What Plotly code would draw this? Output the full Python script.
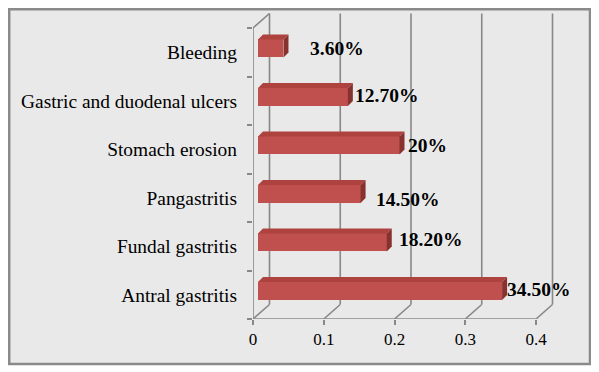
import plotly.graph_objects as go

# ---- data ----
categories = ["Antral gastritis", "Fundal gastritis", "Pangastritis",
              "Stomach erosion", "Gastric and duodenal ulcers", "Bleeding"]
values = [0.345, 0.182, 0.145, 0.20, 0.127, 0.036]
value_labels = ["34.50%", "18.20%", "14.50%", "20%", "12.70%", "3.60%"]
x_ticks = [0, 0.1, 0.2, 0.3, 0.4]
x_tick_labels = ["0", "0.1", "0.2", "0.3", "0.4"]

# label nudges (pixels) to mimic the original label placement
label_dx = [-3, 4, 7, 0, -1, 19]
label_dy = [1, 3, -6, 0, 1, 0]

# ---- geometry (page has an 8px body margin, so the figure is 8px smaller) ----
W, H = 591, 364
L, R, T, B = 245, 44, 5, 53
pw, ph = W - L - R, H - T - B
px_x = 707.5          # pixels per x unit
px_y = 48.5           # pixels per category
xmax = pw / px_x
ymin = -0.5
ymax = ymin + ph / px_y

dx = 16.5 / px_x      # wall depth in x
dy = 14.5 / px_y      # wall depth in y
bx = 5 / px_x         # bar start offset
by = 3.8 / px_y       # bar vertical offset
bh = 18 / px_y        # bar front height
ddx = 5 / px_x        # bar depth x
ddy = 5 / px_y        # bar depth y

FRONT = "#c0504d"
TOP = "#ad423f"
SIDE = "#883230"
GRID = "#888888"
FONT = "Times New Roman, Liberation Serif, serif"

ypos = list(range(len(categories)))

fig = go.Figure()
fig.add_trace(go.Bar(
    y=[y + by for y in ypos], x=values, base=[bx] * len(values),
    orientation="h", width=bh, marker=dict(color=FRONT, line=dict(width=0)),
    hoverinfo="skip", showlegend=False))

shapes = []
def pxx(p):
    return (p - L) / pw
def pyy(p):
    return 1 - (p - T) / ph
# background frame
shapes.append(dict(type="rect", xref="paper", yref="paper",
                   x0=pxx(1.2), x1=pxx(582), y0=pyy(356), y1=pyy(1.2),
                   fillcolor="#e9e9e9", line=dict(color="#8a8a8a", width=2.5),
                   layer="below"))

def seg(x0, y0, x1, y1, w=1.6):
    shapes.append(dict(type="line", xref="x", yref="y", x0=x0, y0=y0, x1=x1, y1=y1,
                       line=dict(color=GRID, width=w), layer="below"))

# walls / grid
seg(0, ymin, 0, 5.5)
seg(0, 5.5, dx, 5.5 + dy)
seg(dx, ymin + dy, dx, 5.5 + dy)
seg(0, ymin, x_ticks[-1], ymin)
for t in x_ticks:
    seg(t, ymin, t + dx, ymin + dy)
    if t > 0:
        seg(t + dx, ymin + dy, t + dx, 5.5 + dy)

# 3D faces of bars
for y, v in zip(ypos, values):
    yc = y + by
    x0 = bx
    x1 = bx + v
    ytop = yc + bh / 2
    ybot = yc - bh / 2
    top = (f"M{x0},{ytop} L{x1},{ytop} L{x1 + ddx},{ytop + ddy} "
           f"L{x0 + ddx},{ytop + ddy} Z")
    side = (f"M{x1},{ybot} L{x1},{ytop} L{x1 + ddx},{ytop + ddy} "
            f"L{x1 + ddx},{ybot + ddy} Z")
    shapes.append(dict(type="path", xref="x", yref="y", path=top,
                       fillcolor=TOP, line=dict(width=0)))
    shapes.append(dict(type="path", xref="x", yref="y", path=side,
                       fillcolor=SIDE, line=dict(width=0)))

annotations = []
for y, v, lab, ndx, ndy in zip(ypos, values, value_labels, label_dx, label_dy):
    annotations.append(dict(x=bx + v + ddx, y=y + by, text=f"<b>{lab}</b>",
                            xref="x", yref="y", xanchor="left", yanchor="middle",
                            showarrow=False, xshift=1 + ndx, yshift=ndy,
                            font=dict(family=FONT, size=19.5, color="black")))

fig.update_layout(
    width=W, height=H,
    margin=dict(l=L, r=R, t=T, b=B, pad=0, autoexpand=False),
    paper_bgcolor="white", plot_bgcolor="rgba(0,0,0,0)",
    shapes=shapes, annotations=annotations, bargap=0,
    xaxis=dict(range=[0, xmax], tickvals=x_ticks, ticktext=x_tick_labels,
               showgrid=False, zeroline=False, showline=False,
               ticks="outside", ticklen=5, tickcolor=GRID, tickwidth=1.6,
               ticklabelstandoff=0, automargin=False,
               tickfont=dict(family=FONT, size=17, color="black")),
    yaxis=dict(range=[ymin, ymax], tickvals=ypos, ticktext=categories,
               showgrid=False, zeroline=False, showline=False,
               ticks="", ticklabelstandoff=15, automargin=False,
               minor=dict(tickvals=[i - 0.5 for i in range(len(categories) + 1)],
                          ticks="outside", ticklen=5, tickcolor=GRID, tickwidth=1.6,
                          showgrid=False),
               tickfont=dict(family=FONT, size=19.4, color="black")),
)

fig.write_html("out.html")
